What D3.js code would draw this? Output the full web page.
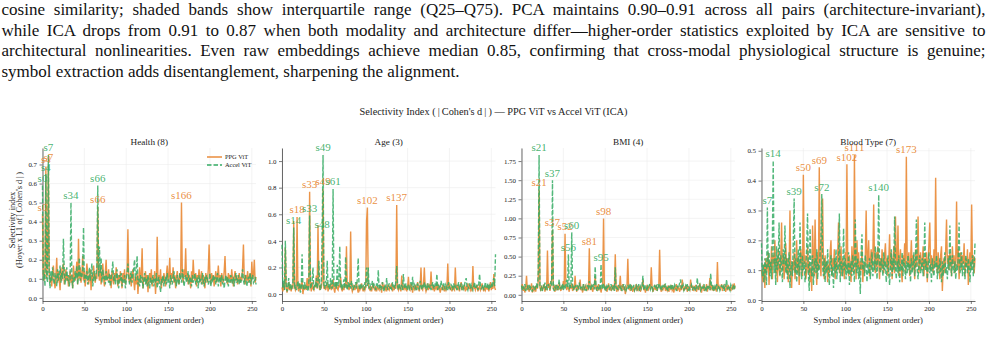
<!DOCTYPE html>
<html>
<head>
<meta charset="utf-8">
<script src="https://cdn.jsdelivr.net/npm/d3@7"></script>
<style>
  body { margin: 0; background: #fff; }
  svg { display: block; }
</style>
</head>
<body>
<div id="chart"></div>
<script>
// caption text above the figure (lines 1-3 justified)
const captionLines = [
  "cosine similarity; shaded bands show interquartile range (Q25\u2013Q75). PCA maintains 0.90\u20130.91 across all pairs (architecture-invariant),",
  "while ICA drops from 0.91 to 0.87 when both modality and architecture differ\u2014higher-order statistics exploited by ICA are sensitive to",
  "architectural nonlinearities. Even raw embeddings achieve median 0.85, confirming that cross-modal physiological structure is genuine;",
  "symbol extraction adds disentanglement, sharpening the alignment."
]

const figTitle = "Selectivity Index (\u2009|\u2009Cohen's d\u2009|\u2009) \u2014 PPG ViT vs Accel ViT (ICA)"
const panelTitles = ["Health (8)", "Age (3)", "BMI (4)", "Blood Type (7)"]
const seriesNames = ["PPG ViT", "Accel ViT"]
const xTicks = [0, 50, 100, 150, 200, 250]
const yTicks = [
  [0, 0.1, 0.2, 0.3, 0.4, 0.5, 0.6, 0.7],
  [0, 0.2, 0.4, 0.6, 0.8, 1.0],
  [0, 0.25, 0.5, 0.75, 1.0, 1.25, 1.5, 1.75],
  [0, 0.1, 0.2, 0.3, 0.4, 0.5]
]
const yTickFormats = [".1f", ".1f", ".2f", ".1f"]

// selectivity per symbol, 256 symbols in alignment order
const healthPpg = [
  .44,.12,.09,.15,.69,.10,.22,.70,.14,.08,.11,.06,.13,.17,.09,.05,
  .12,.21,.08,.14,.10,.04,.16,.09,.13,.18,.07,.11,.15,.09,.12,.06,
  .10,.14,.08,.12,.05,.17,.11,.09,.13,.19,.07,.31,.10,.16,.08,.12,
  .22,.09,.14,.06,.11,.18,.13,.07,.10,.15,.04,.12,.09,.17,.11,.08,
  .13,.10,.48,.14,.09,.16,.07,.12,.18,.10,.06,.13,.20,.09,.11,.15,
  .08,.12,.05,.14,.10,.07,.13,.09,.16,.11,.06,.12,.08,.14,.10,.05,
  .13,.09,.15,.07,.11,.14,.36,.10,.08,.13,.06,.12,.15,.09,.04,.11,
  .07,.13,.02,.10,.16,.08,.12,.26,.05,.11,.09,.14,.07,.12,.03,.10,
  .13,.08,.15,.06,.11,.09,.14,.02,.10,.32,.07,.12,.09,.15,.05,.11,
  .08,.13,.10,.06,.12,.17,.09,.11,.21,.07,.13,.10,.16,.08,.12,.05,
  .11,.14,.09,.07,.13,.10,.50,.12,.08,.15,.11,.26,.09,.13,.07,.12,
  .10,.05,.14,.08,.20,.11,.09,.13,.06,.12,.10,.15,.08,.11,.14,.07,
  .12,.09,.05,.13,.10,.08,.15,.28,.11,.07,.13,.09,.12,.06,.10,.14,
  .08,.11,.17,.09,.12,.06,.13,.10,.08,.14,.22,.09,.11,.07,.13,.10,
  .12,.08,.15,.10,.06,.11,.14,.09,.12,.07,.10,.13,.08,.11,.09,.16,
  .28,.10,.07,.12,.09,.14,.08,.11,.13,.06,.19,.10,.12,.20,.08,.11
]
const healthAccel = [
  .59,.09,.13,.06,.65,.11,.08,.75,.12,.05,.14,.09,.16,.10,.07,.13,
  .11,.06,.15,.09,.12,.17,.08,.13,.10,.31,.14,.07,.11,.16,.09,.12,
  .06,.10,.50,.13,.05,.11,.08,.14,.10,.17,.07,.12,.21,.09,.13,.11,
  .15,.37,.08,.12,.10,.14,.07,.11,.16,.09,.13,.18,.06,.10,.14,.09,
  .12,.17,.59,.11,.27,.13,.21,.08,.15,.10,.12,.07,.14,.09,.11,.08,
  .13,.06,.10,.14,.19,.09,.12,.07,.11,.15,.08,.05,.12,.09,.13,.06,
  .10,.08,.12,.05,.09,.13,.18,.11,.07,.10,.14,.08,.12,.16,.20,.09,
  .13,.22,.07,.10,.06,.12,.08,.11,.05,.09,.13,.07,.10,.06,.12,.08,
  .05,.11,.07,.09,.12,.06,.10,.08,.13,.05,.09,.11,.07,.03,.10,.08,
  .12,.06,.09,.11,.07,.13,.08,.10,.05,.12,.09,.07,.11,.14,.08,.10,
  .06,.12,.09,.07,.13,.10,.08,.15,.11,.06,.09,.12,.08,.10,.14,.07,
  .11,.09,.06,.12,.08,.10,.13,.07,.09,.11,.05,.12,.08,.10,.07,.13,
  .09,.06,.11,.08,.12,.10,.07,.09,.13,.06,.10,.08,.12,.09,.11,.07,
  .10,.13,.06,.09,.11,.08,.12,.07,.10,.05,.09,.12,.08,.11,.06,.10,
  .08,.12,.09,.07,.11,.06,.10,.13,.08,.09,.12,.07,.10,.08,.11,.15,
  .09,.07,.12,.10,.06,.09,.11,.08,.13,.07,.10,.12,.08,.09,.11,.07
]
const agePpg = [
  .05,.02,.08,.03,.35,.06,.01,.04,.09,.03,.05,.02,.07,.04,.55,.06,
  .03,.05,.58,.04,.02,.08,.03,.06,.10,.00,.05,.04,.07,.03,.12,.05,
  .04,.77,.06,.02,.09,.04,.03,.07,.05,.14,.04,.52,.08,.03,.06,.05,
  .10,.79,.04,.07,.03,.05,.09,.02,.06,.04,.08,.03,.05,.11,.04,.01,
  .06,.09,.04,.03,.07,.05,.13,.04,.02,.06,.03,.08,.05,.36,.04,.07,
  .03,.06,.47,.05,.02,.04,.07,.03,.05,.09,.04,.01,.06,.03,.05,.08,
  .04,.02,.06,.03,.05,.55,.65,.07,.04,.03,.06,.02,.05,.08,.04,.03,
  .06,.02,.05,.04,.03,.07,.05,.01,.09,.04,.06,.03,.05,.02,.07,.04,
  .03,.06,.04,.08,.02,.05,.03,.07,.04,.67,.05,.03,.06,.04,.02,.14,
  .05,.03,.07,.04,.06,.02,.05,.13,.04,.03,.08,.05,.01,.06,.04,.07,
  .03,.05,.09,.04,.02,.06,.20,.04,.03,.07,.20,.05,.02,.04,.08,.03,
  .06,.04,.17,.05,.03,.07,.02,.05,.04,.08,.03,.06,.04,.01,.05,.03,
  .07,.04,.02,.06,.03,.05,.23,.04,.08,.03,.05,.02,.06,.04,.03,.20,
  .05,.03,.07,.04,.02,.06,.09,.03,.05,.04,.07,.02,.05,.03,.08,.04,
  .06,.03,.05,.02,.21,.04,.06,.03,.05,.07,.02,.04,.06,.03,.05,.08,
  .04,.02,.06,.03,.05,.04,.07,.02,.05,.09,.03,.06,.04,.15,.05,.03
]
const ageAccel = [
  .37,.05,.10,.03,.40,.07,.02,.06,.12,.04,.08,.03,.05,.09,.50,.04,
  .07,.03,.06,.10,.04,.08,.01,.05,.30,.06,.03,.09,.04,.07,.05,.02,
  .08,.59,.04,.06,.10,.20,.03,.07,.05,.12,.04,.08,.25,.06,.03,.09,
  .47,1.046,.07,.04,.10,.06,.25,.05,.08,.03,.12,.06,.04,.79,.07,.05,
  .09,.04,.22,.06,.10,.36,.05,.08,.03,.07,.11,.04,.28,.06,.03,.09,
  .05,.08,.04,.10,.06,.03,.07,.05,.09,.04,.12,.27,.06,.03,.08,.05,
  .04,.07,.03,.09,.05,.20,.06,.20,.04,.08,.03,.06,.10,.04,.07,.05,
  .03,.08,.05,.18,.04,.07,.03,.06,.09,.04,.02,.07,.05,.12,.03,.06,
  .08,.04,.06,.03,.09,.05,.07,.04,.10,.21,.06,.03,.08,.05,.04,.07,
  .03,.15,.06,.04,.08,.05,.03,.07,.04,.06,.09,.03,.13,.05,.07,.04,
  .06,.03,.08,.05,.04,.10,.06,.03,.07,.05,.09,.04,.06,.03,.08,.05,
  .04,.07,.03,.06,.09,.05,.04,.08,.06,.15,.03,.07,.05,.04,.10,.06,
  .03,.08,.05,.07,.04,.06,.03,.09,.05,.04,.07,.06,.03,.08,.05,.04,
  .07,.03,.06,.09,.04,.05,.08,.03,.06,.04,.07,.10,.12,.05,.03,.06,
  .08,.04,.07,.05,.03,.06,.09,.04,.05,.07,.03,.08,.15,.06,.04,.05,
  .07,.03,.06,.09,.04,.05,.08,.03,.06,.04,.07,.05,.09,.12,.06,.30
]
const bmiPpg = [
  .08,.14,.05,.11,.03,.09,.25,.06,.12,.04,.10,.07,.15,.03,.09,.06,
  .11,.04,.13,.08,.18,1.38,.10,.05,.12,.07,.09,.14,.04,.11,.06,.58,
  .09,.15,.05,.12,.20,.85,.07,.10,.04,.13,.08,.11,.06,.16,.09,.05,
  .12,.07,.18,.10,.80,.14,.06,.11,.09,.04,.13,.08,.15,.05,.10,.07,
  .25,.09,.04,.12,.08,.11,.20,.06,.10,.03,.14,.07,.09,.12,.05,.10,
  .08,.61,.11,.06,.13,.04,.09,.12,.25,.07,.10,.05,.14,.08,.11,.03,
  .09,.13,1.00,.10,.06,.12,.04,.08,.15,.07,.11,.05,.09,.13,.06,.10,
  .53,.08,.04,.12,.07,.10,.25,.05,.09,.14,.06,.11,.01,.08,.12,.47,
  .07,.10,.05,.13,.08,.04,.11,.06,.09,.14,.05,.10,.07,.12,.04,.09,
  .11,.20,.06,.10,.03,.08,.13,.05,.09,.12,.07,.36,.10,.04,.08,.11,
  .06,.13,.05,.09,.12,.59,.08,.04,.11,.07,.10,.14,.05,.09,.06,.12,
  .04,.10,.08,.13,.06,.09,.03,.11,.07,.14,.05,.10,.08,.04,.12,.06,
  .20,.09,.05,.11,.07,.13,.04,.10,.08,.06,.20,.09,.12,.05,.10,.07,
  .13,.04,.09,.11,.06,.15,.08,.03,.10,.12,.05,.09,.07,.14,.04,.11,
  .08,.22,.06,.10,.13,.05,.09,.07,.12,.04,.43,.08,.11,.06,.10,.14,
  .05,.09,.12,.07,.04,.11,.08,.13,.06,.10,.05,.09,.12,.07,.15,.08
]
const bmiAccel = [
  .12,.06,.10,.08,.14,.05,.09,.11,.07,.13,.06,.10,.08,.04,.12,.09,
  .06,.11,.15,.08,.30,1.83,.12,.07,.10,.05,.13,.09,.16,.06,.11,.08,
  .14,.10,.07,.18,.12,1.50,.09,.05,.11,.08,.13,.06,.10,.20,.07,.12,
  .09,.15,.06,.11,.08,.13,.20,.10,.53,.07,.14,.09,.82,.12,.06,.10,
  .08,.13,.05,.11,.09,.16,.07,.12,.10,.06,.14,.08,.11,.05,.09,.13,
  .07,.18,.10,.06,.12,.09,.14,.07,.37,.11,.05,.10,.08,.13,.06,.40,
  .10,.07,.15,.09,.12,.05,.11,.08,.13,.06,.10,.14,.07,.09,.12,.05,
  .36,.08,.11,.06,.13,.09,.07,.12,.05,.10,.14,.08,.11,.06,.09,.13,
  .07,.11,.15,.05,.10,.08,.13,.06,.09,.12,.07,.10,.14,.05,.11,.08,
  .12,.25,.06,.10,.13,.08,.05,.11,.09,.14,.07,.10,.12,.06,.09,.13,
  .08,.11,.05,.14,.09,.12,.07,.10,.06,.13,.09,.11,.15,.07,.10,.05,
  .12,.08,.11,.06,.14,.09,.07,.13,.10,.05,.12,.08,.11,.16,.20,.07,
  .10,.13,.06,.09,.12,.08,.14,.05,.11,.07,.10,.13,.06,.09,.12,.08,
  .05,.11,.22,.07,.10,.13,.06,.09,.12,.08,.14,.05,.10,.07,.13,.09,
  .11,.06,.28,.10,.08,.13,.05,.11,.09,.14,.07,.10,.12,.06,.09,.13,
  .08,.11,.05,.14,.10,.20,.07,.12,.09,.06,.13,.10,.08,.11,.07,.12
]
const bloodPpg = [
  .10,.08,.06,.12,.04,.14,.09,.11,.16,.05,.13,.10,.18,.07,.15,.12,
  .20,.09,.14,.06,.17,.11,.08,.13,.26,.10,.15,.07,.12,.19,.09,.14,
  .06,.11,.30,.08,.04,.13,.10,.16,.07,.12,.20,.09,.14,.05,.11,.17,
  .13,.08,.42,.12,.15,.07,.10,.18,.09,.13,.06,.11,.03,.25,.14,.08,
  .27,.12,.05,.16,.10,.445,.13,.08,.19,.34,.11,.07,.15,.10,.13,.06,
  .12,.09,.16,.20,.08,.14,.11,.17,.07,.13,.10,.15,.26,.09,.12,.18,
  .08,.14,.11,.07,.16,.10,.455,.13,.08,.15,.11,.06,.18,.12,.09,.486,
  .14,.07,.20,.11,.16,.08,.13,.10,.17,.06,.12,.09,.15,.30,.11,.14,
  .20,.08,.13,.17,.10,.15,.32,.12,.09,.16,.11,.18,.13,.07,.14,.10,
  .17,.12,.09,.15,.19,.11,.14,.08,.13,.22,.10,.16,.07,.12,.18,.09,
  .28,.14,.11,.25,.08,.13,.17,.10,.06,.15,.12,.19,.09,.48,.14,.11,
  .16,.08,.13,.20,.10,.15,.12,.07,.17,.11,.14,.28,.09,.13,.16,.10,
  .12,.18,.08,.14,.11,.16,.06,.13,.19,.26,.10,.15,.12,.09,.17,.11,
  .41,.13,.09,.16,.12,.07,.15,.18,.03,.11,.14,.09,.17,.27,.12,.15,
  .10,.16,.13,.08,.18,.12,.15,.09,.14,.33,.11,.17,.07,.13,.16,.10,
  .15,.12,.19,.08,.14,.11,.17,.05,.13,.16,.10,.32,.12,.15,.09,.14
]
const bloodAccel = [
  .19,.08,.12,.06,.14,.10,.05,.31,.11,.16,.08,.13,.07,.20,.467,.09,
  .14,.05,.18,.10,.13,.26,.08,.15,.11,.06,.17,.12,.25,.09,.14,.07,
  .12,.16,.04,.10,.13,.08,.20,.34,.09,.14,.06,.11,.17,.08,.26,.12,
  .07,.15,.10,.13,.06,.11,.18,.29,.09,.03,.24,.12,.08,.15,.05,.11,
  .14,.09,.17,.07,.12,.10,.16,.20,.355,.11,.08,.14,.06,.13,.09,.17,
  .10,.05,.12,.15,.08,.11,.04,.14,.09,.17,.07,.12,.10,.29,.06,.13,
  .11,.08,.24,.10,.14,.07,.12,.09,.16,.05,.11,.13,.08,.15,.10,.06,
  .27,.12,.09,.14,.07,.11,.02,.16,.22,.10,.13,.08,.15,.11,.06,.12,
  .09,.14,.07,.11,.16,.08,.13,.10,.18,.12,.07,.15,.353,.11,.09,.14,
  .12,.08,.16,.10,.13,.06,.11,.15,.09,.05,.12,.17,.08,.14,.10,.28,
  .11,.07,.13,.09,.15,.06,.12,.10,.16,.08,.14,.11,.07,.13,.09,.15,
  .10,.12,.06,.14,.09,.11,.16,.08,.13,.27,.10,.07,.12,.15,.09,.11,
  .14,.08,.12,.26,.10,.13,.07,.11,.16,.09,.12,.06,.14,.10,.08,.13,
  .11,.15,.07,.12,.09,.14,.10,.06,.13,.08,.12,.16,.09,.11,.07,.14,
  .10,.25,.12,.08,.15,.11,.09,.13,.07,.12,.10,.14,.26,.09,.11,.16,
  .08,.13,.10,.07,.15,.12,.09,.14,.11,.06,.13,.10,.15,.08,.12,.19
]

// top-5 labelled symbols per series
const healthPpgTop = [0, 4, 7, 66, 166]
const healthAccelTop = [0, 4, 7, 34, 66]
const agePpgTop = [18, 33, 49, 102, 137]
const ageAccelTop = [14, 33, 48, 49, 61]
const bmiPpgTop = [21, 37, 52, 81, 98]
const bmiAccelTop = [21, 37, 56, 60, 95]
const bloodPpgTop = [50, 69, 102, 111, 173]
const bloodAccelTop = [7, 14, 39, 72, 140]

const width = 987, height = 342
const colors = ["#e8852f", "#35ac64"]
const serif = "'Liberation Serif', 'DejaVu Serif', serif"

const panels = [
  { ppg: healthPpg, accel: healthAccel, ppgTop: healthPpgTop, accelTop: healthAccelTop },
  { ppg: agePpg, accel: ageAccel, ppgTop: agePpgTop, accelTop: ageAccelTop },
  { ppg: bmiPpg, accel: bmiAccel, ppgTop: bmiPpgTop, accelTop: bmiAccelTop },
  { ppg: bloodPpg, accel: bloodAccel, ppgTop: bloodPpgTop, accelTop: bloodAccelTop }
]
const panelLefts = [42.5, 282, 521.5, 761.5]
const plotW = 213.5, plotTop = 148, plotBottom = 301

const AppendG = (parent, left, top, className = "") => {
  return parent.append("g")
    .attr("transform", "translate(" + left + "," + top + ")")
    .attr("class", className)
}

const svg = d3.select("#chart").append("svg")
  .attr("width", width)
  .attr("height", height)
  .attr("font-family", serif)

// caption paragraph, justified by word spacing
const captionBase = [15, 35.5, 56, 76.5]
captionLines.forEach((line, i) => {
  const t = svg.append("text")
    .attr("x", 1.5)
    .attr("y", captionBase[i])
    .attr("font-size", 17)
    .attr("fill", "#111")
    .text(line)
  if (i < captionLines.length - 1) {
    const len = t.node().getComputedTextLength()
    const gaps = line.split(" ").length - 1
    t.style("word-spacing", ((984 - len) / gaps) + "px")
  }
})

svg.append("text")
  .attr("x", 493.5)
  .attr("y", 115)
  .attr("text-anchor", "middle")
  .attr("font-size", 10.3)
  .attr("fill", "#222")
  .text(figTitle)

function drawPanel(p, k) {
  const left = panelLefts[k]
  const g = AppendG(svg, 0, 0, "panel")
  const x = d3.scaleLinear().domain([0, 255]).range([left, left + plotW])
  const all = p.ppg.concat(p.accel)
  const lo = d3.min(all), hi = d3.max(all), pad = (hi - lo) * 0.05
  const y = d3.scaleLinear().domain([lo - pad, hi + pad]).range([plotBottom, plotTop])

  // grid
  g.append("g").selectAll("line").data(yTicks[k]).join("line")
    .attr("x1", left).attr("x2", left + plotW)
    .attr("y1", d => y(d)).attr("y2", d => y(d))
    .attr("stroke", "#ececec").attr("stroke-width", 0.6)
  g.append("g").selectAll("line").data(xTicks).join("line")
    .attr("x1", d => x(d)).attr("x2", d => x(d))
    .attr("y1", plotTop).attr("y2", plotBottom)
    .attr("stroke", "#ececec").attr("stroke-width", 0.6)

  // axes
  const xAxis = d3.axisBottom(x).tickValues(xTicks).tickSize(3).tickSizeOuter(0).tickPadding(1.8)
  const yAxis = d3.axisLeft(y).tickValues(yTicks[k]).tickFormat(d3.format(yTickFormats[k]))
    .tickSize(3).tickSizeOuter(0).tickPadding(2.5)
  const ax = AppendG(g, 0, plotBottom, "x axis").call(xAxis)
  const ay = AppendG(g, left, 0, "y axis").call(yAxis)
  ;[ax, ay].forEach(a => {
    a.attr("font-family", serif)
    a.select(".domain").attr("stroke", "#444").attr("stroke-width", 0.8)
    a.selectAll(".tick line").attr("stroke", "#444").attr("stroke-width", 0.7)
    a.selectAll(".tick text").attr("font-size", 6.9).attr("fill", "#222")
  })

  // series
  const line = d3.line().x((d, i) => x(i)).y(d => y(d))
  g.append("path").datum(p.ppg)
    .attr("d", line).attr("fill", "none")
    .attr("stroke", colors[0]).attr("stroke-width", 1.4).attr("stroke-opacity", 0.88)
  g.append("path").datum(p.accel)
    .attr("d", line).attr("fill", "none")
    .attr("stroke", colors[1]).attr("stroke-width", 1.4).attr("stroke-opacity", 0.85)
    .attr("stroke-dasharray", "4.5,2")

  // peak labels
  const labels = p.ppgTop.map(i => ({ i, v: p.ppg[i], c: colors[0] }))
    .concat(p.accelTop.map(i => ({ i, v: p.accel[i], c: colors[1] })))
  g.append("g").selectAll("text").data(labels).join("text")
    .attr("x", d => x(d.i))
    .attr("y", d => y(d.v) - 3.5)
    .attr("text-anchor", "middle")
    .attr("font-size", 11)
    .attr("fill", d => d.c)
    .attr("fill-opacity", 0.92)
    .text(d => "s" + d.i)

  g.append("text")
    .attr("x", left + plotW / 2)
    .attr("y", 145)
    .attr("text-anchor", "middle")
    .attr("font-size", 9.2)
    .attr("fill", "#222")
    .text(panelTitles[k])

  g.append("text")
    .attr("x", left + plotW / 2)
    .attr("y", 323)
    .attr("text-anchor", "middle")
    .attr("font-size", 8.5)
    .attr("fill", "#222")
    .text("Symbol index (alignment order)")
}

panels.forEach(drawPanel)

// y label (first panel only)
const ylab = ["Selectivity index", "(Hoyer x L1 of\u2009|\u2009Cohen's d\u2009|\u2009)"]
ylab.forEach((s, i) => {
  svg.append("text")
    .attr("transform", "translate(" + (15 + i * 7) + "," + 220 + ") rotate(-90)")
    .attr("text-anchor", "middle")
    .attr("font-size", 8.4)
    .attr("fill", "#222")
    .text(s)
})

// legend
const legend = AppendG(svg, 207, 157, "legend")
seriesNames.forEach((name, i) => {
  legend.append("line")
    .attr("x1", 0).attr("x2", 15)
    .attr("y1", i * 8).attr("y2", i * 8)
    .attr("stroke", colors[i]).attr("stroke-width", 1.4)
    .attr("stroke-dasharray", i ? "4.5,2" : null)
  legend.append("text")
    .attr("x", 18).attr("y", i * 8).attr("dy", "0.35em")
    .attr("font-size", 6.4)
    .attr("fill", "#222")
    .text(name)
})
</script>
</body>
</html>
